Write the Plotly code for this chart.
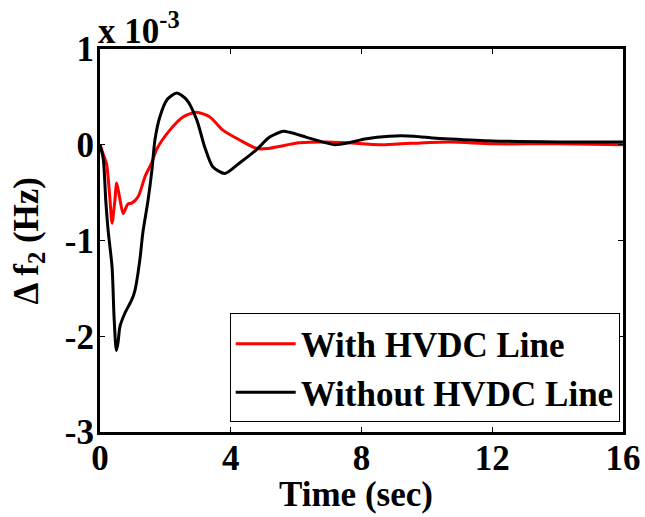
import plotly.graph_objects as go

# Time (sec) and Δf2 (x 10^-3 Hz)
t_without = [0, 0.1, 0.18, 0.25, 0.37, 0.43, 0.5, 0.55, 0.61, 0.76, 0.97, 1.07, 1.22, 1.31, 1.47,
             1.59, 1.68, 1.83, 2.05, 2.35, 2.65, 2.96, 3.2, 3.45, 3.82, 4.27, 4.79, 5.19, 5.6,
             5.8, 6.3, 6.8, 7.2, 7.6, 8.1, 8.85, 9.6, 10.2, 10.7, 12, 14, 16]
v_without = [0, -0.15, -0.6, -0.9, -1.28, -1.8, -2.15, -2.07, -1.9, -1.76, -1.62, -1.52, -1.2,
             -0.92, -0.58, -0.26, 0.05, 0.29, 0.47, 0.54, 0.47, 0.26, -0.02, -0.23, -0.30,
             -0.19, -0.05, 0.08, 0.14, 0.13, 0.08, 0.03, 0.0, 0.02, 0.06, 0.09, 0.09, 0.07,
             0.06, 0.04, 0.03, 0.03]

t_with = [0, 0.1, 0.2, 0.3, 0.37, 0.45, 0.51, 0.6, 0.71, 0.85, 0.97, 1.17, 1.38, 1.58, 1.73,
          2.13, 2.54, 2.95, 3.36, 3.77, 4.27, 4.8, 5.1, 6.1, 6.9, 7.6, 8.55, 9.2, 10.7, 12,
          14, 16]
v_with = [0, -0.1, -0.2, -0.55, -0.82, -0.6, -0.4, -0.55, -0.72, -0.62, -0.61, -0.54, -0.33,
          -0.19, -0.05, 0.15, 0.29, 0.34, 0.29, 0.15, 0.05, -0.04, -0.04, 0.02, 0.03, 0.02,
          0.0, 0.01, 0.03, 0.01, 0.01, 0.0]

x_ticks = [0, 4, 8, 12, 16]
y_ticks = [-3, -2, -1, 0, 1]

FONT = "Liberation Serif"

fig = go.Figure()
fig.add_trace(go.Scatter(x=t_with, y=v_with, mode="lines", name="With HVDC Line",
                         line=dict(color="#ff0000", width=3, shape="spline", smoothing=0.7)))
fig.add_trace(go.Scatter(x=t_without, y=v_without, mode="lines", name="Without HVDC Line",
                         line=dict(color="#000000", width=3, shape="spline", smoothing=0.7)))

axis_common = dict(showline=True, linecolor="black", linewidth=3, mirror="ticks",
                   ticks="inside", ticklen=5, tickwidth=1, tickcolor="black",
                   showgrid=False, zeroline=False, automargin=False,
                   tickfont=dict(family=FONT, size=35, color="black", weight="bold"))

fig.update_xaxes(range=[0, 16], tickvals=x_ticks, ticktext=[str(v) for v in x_ticks],
                 ticklabelstandoff=-7, **axis_common)
fig.update_yaxes(range=[-3, 1], tickvals=y_ticks, ticktext=[str(v) for v in y_ticks],
                 ticklabelstandoff=-4, **axis_common)

title_font = dict(family=FONT, size=35, color="black", weight="bold")
fig.add_annotation(text="Time (sec)", xref="paper", yref="paper", x=0.49, y=0,
                   xanchor="center", yanchor="middle", yshift=-62, showarrow=False,
                   font=title_font)
fig.add_annotation(text="Δ f<sub>2</sub> (Hz)", xref="paper", yref="paper", x=0, y=0.5,
                   xanchor="center", yanchor="middle", xshift=-72, textangle=-90,
                   showarrow=False, font=title_font)
fig.add_annotation(text="x 10<sup>-3</sup>", xref="paper", yref="paper", x=0, y=1,
                   xanchor="left", yanchor="bottom", showarrow=False, yshift=-4, xshift=-4,
                   font=dict(family=FONT, size=35, color="black", weight="bold"))

fig.update_layout(
    width=645, height=517,
    margin=dict(l=100, r=22, t=49, b=85),
    paper_bgcolor="white", plot_bgcolor="white",
    showlegend=True,
    legend=dict(x=0.248, y=0.025, xanchor="left", yanchor="bottom",
                bgcolor="white", bordercolor="black", borderwidth=1,
                font=dict(family=FONT, size=35, color="black", weight="bold"),
                tracegroupgap=0, itemwidth=60),
)

fig.write_html("out.html", config={"displayModeBar": False},
               post_script="document.body.style.margin='0px';")
